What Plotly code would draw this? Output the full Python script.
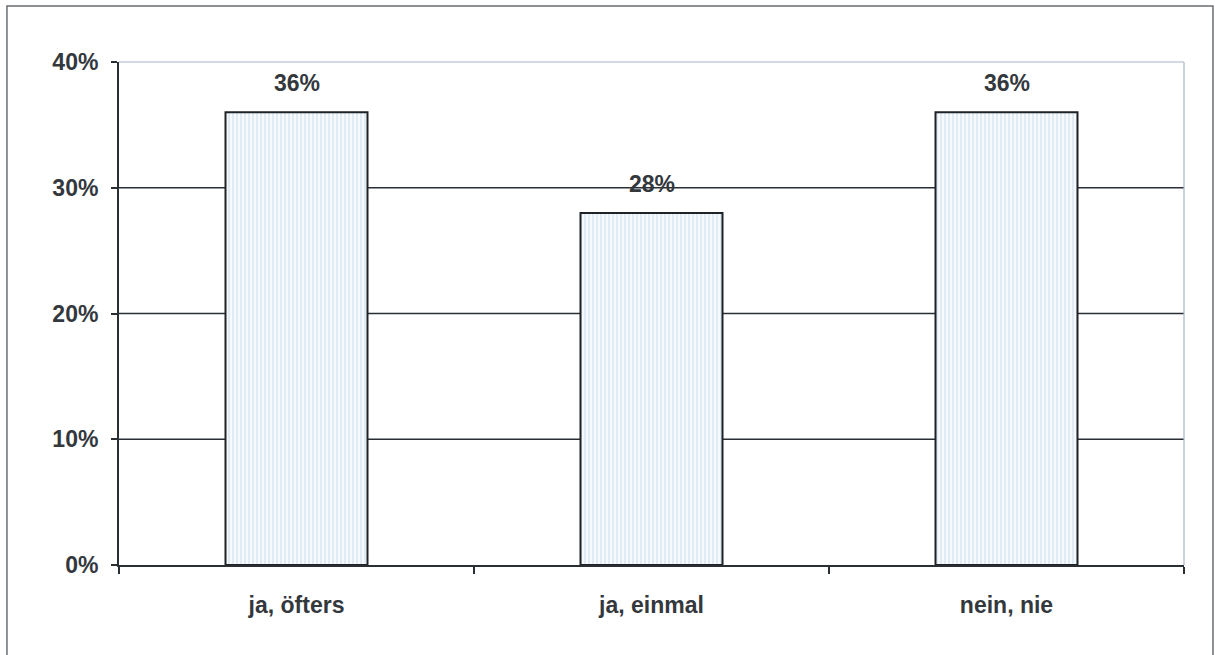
import plotly.graph_objects as go

# Survey answers and their shares
categories = ["ja, öfters", "ja, einmal", "nein, nie"]
shares = [0.36, 0.28, 0.36]
y_ticks = [0.0, 0.1, 0.2, 0.3, 0.4]
y_tick_labels = ["0%", "10%", "20%", "30%", "40%"]

text_color = "#33383d"
font_family = "Liberation Sans, Arial, sans-serif"
font_size = 23

fig = go.Figure()

fig.add_trace(go.Bar(
    x=categories,
    y=shares,
    width=0.4,
    marker=dict(
        color="#f3f8fc",
        line=dict(color="#1e2226", width=2),
        pattern=dict(shape="|", fgcolor="#b9cfe3", bgcolor="#f6fafd",
                     size=4, solidity=0.35),
    ),
    hoverinfo="skip",
))

# Value labels above each bar
for cat, val in zip(categories, shares):
    fig.add_annotation(
        x=cat, y=val, text=f"{round(val * 100)}%",
        showarrow=False, yshift=29,
        font=dict(family=font_family, size=font_size, color=text_color, weight="bold"),
    )

# Horizontal gridlines (inner ticks only; top edge is the light frame)
for v in y_ticks[1:-1]:
    fig.add_shape(
        type="line", xref="paper", yref="y", x0=0, x1=1, y0=v, y1=v,
        line=dict(color="#2a2f34", width=1.5), layer="below",
    )

# Light frame of the plotting area (top and right)
fig.add_shape(type="line", xref="paper", yref="paper", x0=0, x1=1, y0=1, y1=1,
              line=dict(color="#a9b6c8", width=1.2), layer="below")
fig.add_shape(type="line", xref="paper", yref="paper", x0=1, x1=1, y0=0, y1=1,
              line=dict(color="#a9b6c8", width=1.2), layer="below")

# Outer chart border
fig.add_shape(type="rect", xref="paper", yref="paper",
              x0=-0.1052, x1=1.0272, y0=-0.3, y1=1.1113,
              line=dict(color="#6a6e72", width=1.5), fillcolor="rgba(0,0,0,0)",
              layer="below")

fig.update_layout(
    width=1215, height=655,
    margin=dict(l=119, r=31, t=62, b=90),
    paper_bgcolor="white",
    plot_bgcolor="white",
    showlegend=False,
    bargap=0.6,
    font=dict(family=font_family, color=text_color),
    xaxis=dict(
        type="category",
        showline=True, linecolor="#2a2f34", linewidth=2,
        ticks="outside", tickson="boundaries", ticklen=7,
        tickcolor="#2a2f34", tickwidth=1.5,
        showgrid=False,
        tickfont=dict(family=font_family, size=font_size, color=text_color, weight="bold"),
        ticklabelstandoff=18,
        fixedrange=True,
    ),
    yaxis=dict(
        range=[0, 0.4],
        tickvals=y_ticks, ticktext=y_tick_labels,
        showline=True, linecolor="#2a2f34", linewidth=2,
        ticks="outside", ticklen=6, tickcolor="#2a2f34", tickwidth=1.5,
        showgrid=False, zeroline=False,
        tickfont=dict(family=font_family, size=font_size, color=text_color, weight="bold"),
        ticklabelstandoff=8,
        fixedrange=True,
    ),
)

fig.write_html("out.html", config={"displayModeBar": False})
